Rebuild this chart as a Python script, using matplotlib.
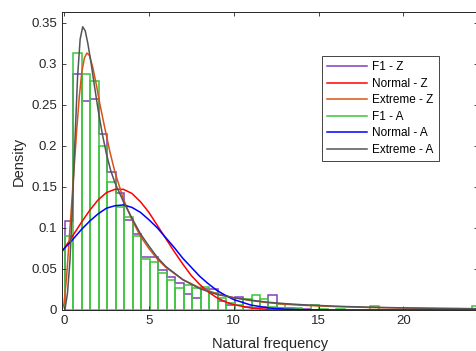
import matplotlib
matplotlib.use('Agg')
import matplotlib.pyplot as plt
from matplotlib.lines import Line2D
import numpy as np

plt.rcParams['font.family'] = ['Liberation Sans', 'DejaVu Sans']

# histogram bins (width 0.5, first edge 0.05)
bin_start = 0.05
bin_width = 0.5

# F1 - Z histogram heights (stairs)
f1_z = [0.108, 0.288, 0.254, 0.257, 0.214, 0.168, 0.143, 0.110, 0.093, 0.065,
        0.065, 0.049, 0.040, 0.033, 0.019, 0.015, 0.026, 0.026, 0.011, 0.006,
        0.016, 0.004, 0.003, 0.004, 0.018, 0.002, 0.002, 0.001, 0.001]

# F1 - A histogram heights (bars)
f1_a = [0.090, 0.313, 0.288, 0.279, 0.200, 0.156, 0.125, 0.113, 0.090, 0.062,
        0.058, 0.045, 0.036, 0.027, 0.030, 0.027, 0.028, 0.021, 0.015, 0.0085,
        0.006, 0.013, 0.018, 0.013, 0.004, 0.007, 0.002, 0.002, 0.0, 0.006,
        0.001, 0.0, 0.001, 0.0, 0.0, 0.0, 0.005, 0.0, 0.0, 0.0,
        0.0, 0.0, 0.0, 0.0, 0.0, 0.0, 0.0, 0.0, 0.005]

# fitted curves
normal_z_x = [-0.12, 0.5, 1, 1.5, 2, 2.5, 3, 3.5, 4, 4.5, 5, 5.5, 6, 6.5, 7, 7.5,
              8, 8.5, 9, 9.5, 10, 11, 12, 13, 14.2]
normal_z_y = [0.071, 0.090, 0.106, 0.121, 0.134, 0.143, 0.147, 0.147, 0.142, 0.132,
              0.119, 0.103, 0.087, 0.071, 0.056, 0.042, 0.031, 0.022, 0.015, 0.010,
              0.0065, 0.0025, 0.0008, 0.0002, 0.0]

extreme_z_x = [-0.12, 0.0, 0.15, 0.3, 0.45, 0.6, 0.75, 0.9, 1.05, 1.2, 1.35, 1.5,
               1.7, 1.9, 2.1, 2.4, 2.7, 3.0, 3.5, 4.0, 4.5, 5.0, 5.5, 6.0, 7.0,
               8.0, 9.0, 10, 11, 12, 13, 14, 16, 18, 20, 22, 24.4]
extreme_z_y = [0.0, 0.008, 0.04, 0.085, 0.13, 0.175, 0.22, 0.26, 0.29, 0.307, 0.313, 0.31,
               0.295, 0.275, 0.252, 0.222, 0.193, 0.168, 0.135, 0.11, 0.09, 0.075, 0.062,
               0.052, 0.037, 0.027, 0.02, 0.015, 0.0115, 0.009, 0.007, 0.0058, 0.0042,
               0.0031, 0.0024, 0.0019, 0.0015]

normal_a_x = [-0.12, 0.5, 1, 1.5, 2, 2.5, 3, 3.5, 4, 4.5, 5, 5.5, 6, 6.5, 7, 7.5,
              8, 8.5, 9, 9.5, 10, 11, 12, 13, 14, 16, 24.4]
normal_a_y = [0.072, 0.0855, 0.0975, 0.108, 0.117, 0.124, 0.127, 0.128, 0.125, 0.119,
              0.110, 0.100, 0.088, 0.076, 0.063, 0.052, 0.041, 0.032, 0.024, 0.018,
              0.0127, 0.0061, 0.0026, 0.001, 0.0003, 0.0, 0.0]

extreme_a_x = [0.05, 0.2, 0.35, 0.5, 0.65, 0.8, 0.95, 1.1, 1.25, 1.4, 1.6, 1.8, 2.0,
               2.25, 2.5, 2.75, 3.0, 3.5, 4.0, 4.5, 5.0, 5.5, 6.0, 7.0, 8.0, 9.0,
               10, 11, 12, 13, 14, 16, 18, 20, 22, 24.4]
extreme_a_y = [0.0, 0.02, 0.06, 0.13, 0.21, 0.285, 0.33, 0.345, 0.34, 0.325, 0.30, 0.272,
               0.245, 0.215, 0.19, 0.17, 0.155, 0.132, 0.112, 0.093, 0.078, 0.064, 0.053,
               0.037, 0.026, 0.019, 0.015, 0.012, 0.0095, 0.0078, 0.0065, 0.0046, 0.0034,
               0.0026, 0.002, 0.0015]

labels = ['F1 - Z', 'Normal - Z', 'Extreme - Z', 'F1 - A', 'Normal - A', 'Extreme - A']
colors = ['#7F3FBF', '#FF0000', '#D95319', '#3CC43C', '#0000FF', '#555555']

x_ticks = [0, 5, 10, 15, 20]
y_ticks = [0, 0.05, 0.1, 0.15, 0.2, 0.25, 0.3, 0.35]
y_tick_labels = ['0', '0.05', '0.1', '0.15', '0.2', '0.25', '0.3', '0.35']

fig = plt.figure(figsize=(4.77, 3.51), dpi=100)
ax = fig.add_axes([62 / 477, 1 - 310 / 351, 416 / 477, 298 / 351])

edges_z = bin_start + bin_width * np.arange(len(f1_z) + 1)
edges_a = bin_start + bin_width * np.arange(len(f1_a))

lw = 1.1
ax.stairs(f1_z, edges_z, color=colors[0], linewidth=lw, baseline=0)
ax.plot(normal_z_x, normal_z_y, color=colors[1], linewidth=lw)
ax.plot(extreme_z_x, extreme_z_y, color=colors[2], linewidth=lw)
ax.bar(edges_a, f1_a, width=bin_width, align='edge', facecolor='none',
       edgecolor=colors[3], linewidth=lw)
ax.plot(normal_a_x, normal_a_y, color=colors[4], linewidth=lw)
ax.plot(extreme_a_x, extreme_a_y, color=colors[5], linewidth=lw)

ax.set_xlim(-0.12, 24.4)
ax.set_ylim(0, 0.363)
ax.set_xticks(x_ticks)
ax.set_xticklabels([str(t) for t in x_ticks])
ax.set_yticks(y_ticks)
ax.set_yticklabels(y_tick_labels)

dark = '#262626'
ax.tick_params(direction='in', top=True, right=True, length=3, width=0.6,
               colors=dark, labelsize=9.5, labelcolor=dark)
for s in ax.spines.values():
    s.set_color(dark)
    s.set_linewidth(0.7)

ax.set_xlabel('Natural frequency', fontsize=10.5, color=dark, labelpad=7)
ax.set_ylabel('Density', fontsize=10.5, color=dark, labelpad=4)

handles = [Line2D([], [], color=c, linewidth=lw) for c in colors]
leg = ax.legend(handles, labels, loc='upper left', bbox_to_anchor=(0.625, 0.852),
                borderaxespad=0, fontsize=8.5, handlelength=3.4, handletextpad=0.4,
                labelspacing=0.38, borderpad=0.45, fancybox=False, framealpha=1,
                edgecolor=dark)
leg.get_frame().set_linewidth(0.6)

fig.savefig('out.png', dpi=100)
